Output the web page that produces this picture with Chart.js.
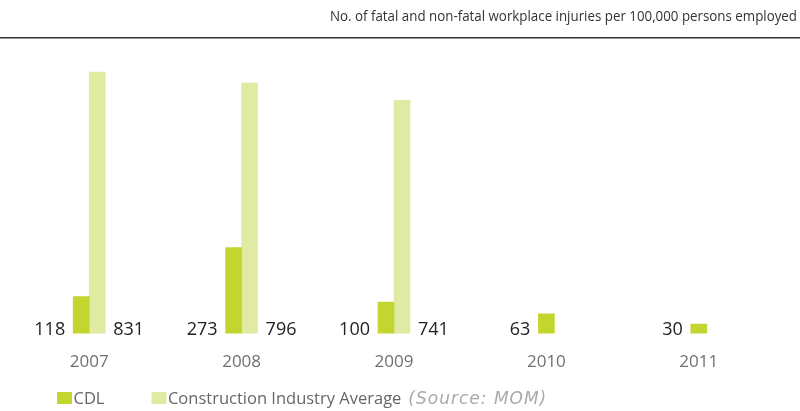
<!DOCTYPE html>
<html><head><meta charset="utf-8">
<style>html,body{margin:0;padding:0;background:#fff}#wrap{width:800px;height:411px;position:relative}</style>
<script src="https://cdn.jsdelivr.net/npm/chart.js@4.4.0/dist/chart.umd.min.js"></script>
</head><body><div id="wrap"><canvas id="c" width="800" height="411"></canvas></div>
<script>
const years = ['2007', '2008', '2009', '2010', '2011'];
const cdlValues = [118, 273, 100, 63, 30];
const industryValues = [831, 796, 741, null, null];
const seriesNames = ['CDL', 'Construction Industry Average'];
const sourceNote = '(Source: MOM)';
const titleText = 'No. of fatal and non-fatal workplace injuries per 100,000 persons employed';

const FONT = '"Open Sans"';
const COLORS = ['#c2d62f', '#e0eaa3'];

const decor = {
  id: 'decor',
  afterDraw(chart) {
    const ctx = chart.ctx;
    ctx.save();
    // title, narrowed to span its reference width
    ctx.font = '14.5px ' + FONT;
    const tw = ctx.measureText(titleText).width;
    const sx = 467 / tw;
    ctx.save();
    ctx.translate(797, 20.5);
    ctx.scale(sx, 1);
    ctx.fillStyle = '#333';
    ctx.textAlign = 'right';
    ctx.textBaseline = 'alphabetic';
    ctx.fillText(titleText, 0, 0);
    ctx.restore();
    // rule
    ctx.fillStyle = '#333';
    ctx.fillRect(0, 37, 800, 1.5);
    // value labels
    ctx.font = '18px ' + FONT;
    ctx.fillStyle = '#222';
    ctx.textBaseline = 'alphabetic';
    chart.data.datasets.forEach((ds, di) => {
      const meta = chart.getDatasetMeta(di);
      meta.data.forEach((el, i) => {
        const v = ds.data[i];
        if (v === null || v === undefined) return;
        const w = el.width;
        const y = chart.chartArea.bottom + 1;
        if (di === 0) {
          ctx.textAlign = 'right';
          ctx.fillText(String(v), el.x - w / 2 - 8, y);
        } else {
          ctx.textAlign = 'left';
          ctx.fillText(String(v), el.x + w / 2 + 8, y);
        }
      });
    });
    // legend
    ctx.font = '16.5px ' + FONT;
    ctx.textAlign = 'left';
    let x = 57;
    const by = 392;
    chart.data.datasets.forEach((ds, di) => {
      ctx.fillStyle = ds.backgroundColor;
      ctx.fillRect(x, by, 15, 12);
      ctx.fillStyle = '#666';
      ctx.fillText(ds.label, x + 16.5, 404);
      x = x + 16.5 + ctx.measureText(ds.label).width;
      if (di === 0) x += 47;
    });
    ctx.font = 'italic 17px "DejaVu Sans"';
    ctx.fillStyle = '#aaa';
    ctx.letterSpacing = '1px';
    ctx.fillText(sourceNote, x + 7, 404);
    ctx.restore();
  }
};

new Chart(document.getElementById('c'), {
  type: 'bar',
  data: {
    labels: years,
    datasets: [
      { label: seriesNames[0], data: cdlValues, backgroundColor: COLORS[0], barThickness: 16, skipNull: true },
      { label: seriesNames[1], data: industryValues, backgroundColor: COLORS[1], barThickness: 16, skipNull: true }
    ]
  },
  options: {
    responsive: false,
    animation: false,
    devicePixelRatio: 1,
    layout: { padding: { left: 13, right: 25, top: 33, bottom: 21 } },
    scales: {
      x: {
        grid: { display: false, drawTicks: false },
        border: { display: false },
        ticks: { color: '#707070', font: { family: FONT, size: 17 }, padding: 18 }
      },
      y: { display: false, min: 0, max: 955 }
    },
    plugins: { legend: { display: false }, title: { display: false }, tooltip: { enabled: false } }
  },
  plugins: [decor]
});
</script>
</body></html>
